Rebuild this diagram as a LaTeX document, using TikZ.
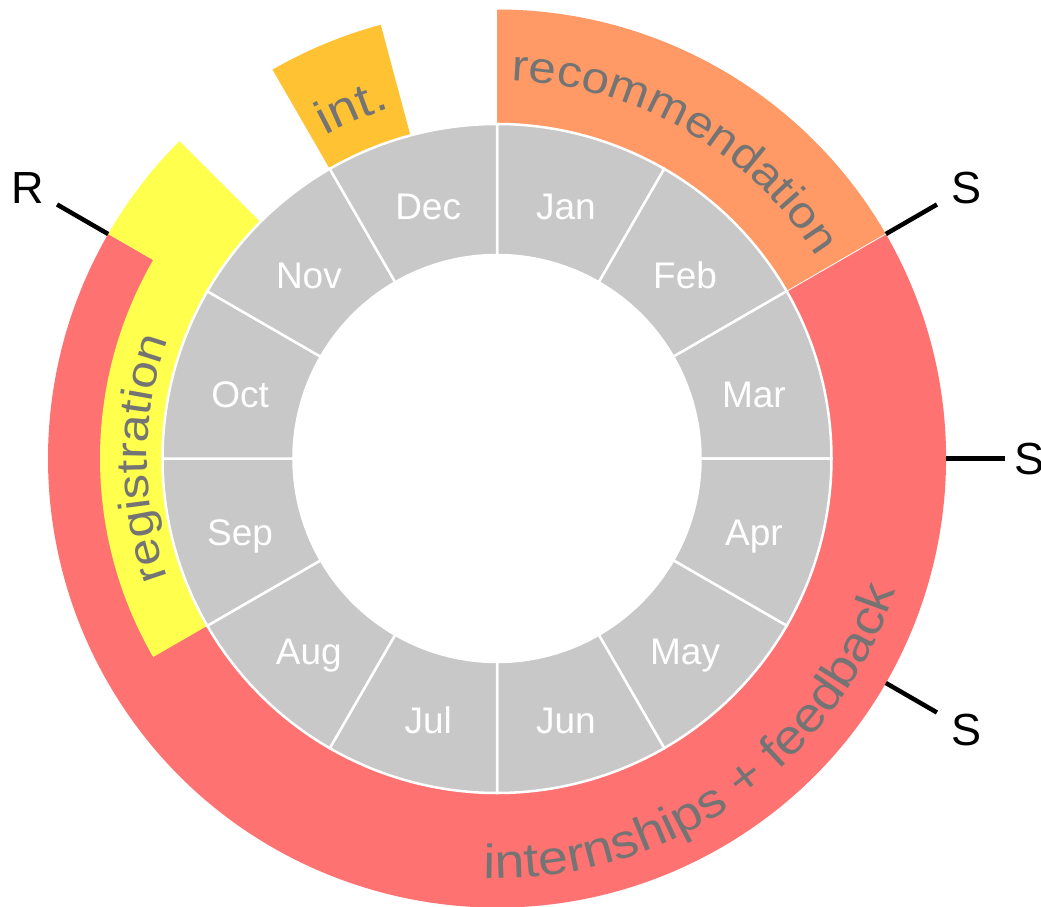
\documentclass[tikz,border=0pt]{standalone}
\usepackage{fontspec}
\setmainfont{Liberation Sans}
\newfontfamily\bandfont[FakeStretch=1.12]{Liberation Sans}
\usetikzlibrary{decorations.text}
\definecolor{monthgray}{HTML}{C8C8C8}
\definecolor{bandred}{HTML}{FF7272}
\definecolor{bandorange}{HTML}{FF9A66}
\definecolor{bandyellow}{HTML}{FFFF4D}
\definecolor{bandint}{HTML}{FFC233}
\definecolor{labelgray}{HTML}{747474}
\begin{document}
\begin{tikzpicture}[x=1pt,y=1pt,
  monthseg/.style={fill=monthgray, draw=white, line width=2.5pt},
  monthlabel/.style={text=white, font=\fontsize{37}{37}\selectfont, inner sep=0pt, text height=26.5pt, text depth=0pt, anchor=center},
  ticklabel/.style={text=black, font=\fontsize{45}{45}\selectfont, inner sep=0pt, text height=32pt, text depth=0pt},
  tickline/.style={draw=black, line width=4.5pt},
  bandfill/.style={fill=#1}
]
\useasboundingbox (-497,-447.5) rectangle (544,458.5);

% internships + feedback band
\fill[bandfill=bandred] (30:334.5) -- (30:449) arc[start angle=30, end angle=-210, radius=449]
  -- (-210:334.5) arc[start angle=-210, end angle=30, radius=334.5] -- cycle;
% registration band
\fill[bandfill=bandyellow] (135:334.5) -- (135:449) arc[start angle=135, end angle=150, radius=449]
  -- (150:397) arc[start angle=150, end angle=210, radius=397]
  -- (210:334.5) arc[start angle=210, end angle=135, radius=334.5] -- cycle;
% recommendation band
\fill[bandfill=bandorange] (90:334.5) -- (90:449) arc[start angle=90, end angle=30, radius=449]
  -- (30:334.5) arc[start angle=30, end angle=90, radius=334.5] -- cycle;
\draw[white, line width=0.8pt] (30:334.5) -- (30:449);
% int. band
\fill[bandfill=bandint] (105:334.5) -- (105:449) arc[start angle=105, end angle=120, radius=449]
  -- (120:334.5) arc[start angle=120, end angle=105, radius=334.5] -- cycle;

% months
\foreach \m [count=\i from 0] in {Jan,Feb,Mar,Apr,May,Jun,Jul,Aug,Sep,Oct,Nov,Dec} {
  \pgfmathsetmacro\aS{90-30*\i}
  \pgfmathsetmacro\aE{60-30*\i}
  \pgfmathsetmacro\aM{75-30*\i}
  \path[monthseg] (\aS:203.5) arc[start angle=\aS, end angle=\aE, radius=203.5]
    -- (\aE:334.5) arc[start angle=\aE, end angle=\aS, radius=334.5] -- cycle;
  \node[monthlabel] (m\m) at ([yshift=-5pt]\aM:266) {\m};
}

% band labels along arcs
\path[decorate, decoration={text along path, text align=center,
  text={|\bandfont\fontsize{44}{44}\selectfont\color{labelgray}|recommendation}}]
  (110:378) arc[start angle=110, end angle=10, radius=378];
\path[decorate, decoration={text along path, text align=center,
  text={|\bandfont\fontsize{48}{48}\selectfont\color{labelgray}|internships + feedback}}]
  (-115:420) arc[start angle=-115, end angle=5, radius=420];
\path[decorate, decoration={text along path, text align=center,
  text={|\bandfont\fontsize{44}{44}\selectfont\color{labelgray}|registration}}]
  (230:350) arc[start angle=230, end angle=130, radius=350];
\path[decorate, decoration={text along path, text align=center,
  text={|\bandfont\fontsize{47}{47}\selectfont\color{labelgray}|int.}}]
  (162.5:366) arc[start angle=162.5, end angle=62.5, radius=366];

% ticks
\foreach \a/\t/\n/\r in {150/R/r/542, 30/S/sa/542, 0/S/sb/532, -30/S/sc/542} {
  \coordinate (ti\n) at (\a:449);
  \coordinate (to\n) at (\a:508);
  \draw[tickline] (ti\n) -- (to\n);
  \node[ticklabel] (l\n) at (\a:\r) {\t};
}
\end{tikzpicture}
\end{document}
